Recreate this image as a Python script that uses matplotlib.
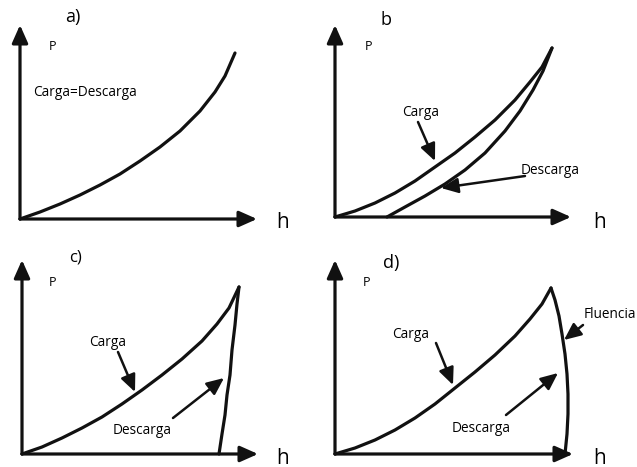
import matplotlib
matplotlib.use('Agg')
import matplotlib.pyplot as plt

# curvas (h, P) en unidades arbitrarias (1 unidad ~ 1 px)
a_h = [0, 20, 40, 60, 80, 100, 120, 140, 160, 180, 195, 205, 215]
a_P = [0, 7, 15, 24, 34, 45, 58, 72, 88, 108, 127, 143, 166]

b_carga_h = [0, 20, 40, 60, 80, 100, 120, 140, 160, 180, 195, 207, 217]
b_carga_P = [0, 6, 14, 24, 36, 50, 64, 80, 97, 117, 135, 150, 169]
b_desc_h = [52, 70, 90, 110, 130, 150, 170, 185, 198, 208, 217]
b_desc_P = [0, 10, 21, 33, 47, 64, 86, 106, 127, 146, 169]

c_carga_h = [0, 20, 40, 60, 80, 100, 120, 140, 160, 180, 195, 207, 217]
c_carga_P = [0, 7, 16, 26, 37, 50, 64, 79, 95, 113, 130, 146, 167]
c_desc_h = [217, 215, 213, 210, 208, 205, 203, 200, 197]
c_desc_P = [167, 150, 129, 104, 79, 59, 39, 20, 0]

d_carga_h = [0, 20, 40, 60, 80, 100, 120, 140, 160, 180, 195, 207, 216]
d_carga_P = [0, 6, 14, 24, 36, 50, 66, 82, 99, 118, 135, 150, 166]
d_desc_h = [216, 220, 224, 227, 230, 232, 233, 233, 232, 230]
d_desc_P = [166, 154, 138, 120, 100, 80, 60, 40, 20, 0]

# largo de los ejes (h, P) de cada panel
ejes_h = [237, 236, 236, 238]
ejes_P = [194, 192, 194, 194]

W, H = 637, 467
fig = plt.figure(figsize=(W / 100, H / 100), dpi=100)
fig.patch.set_facecolor('white')
plt.rcParams['font.family'] = ['Open Sans', 'DejaVu Sans']

col = '#111111'
origenes = [(20, 219), (335, 217), (22, 454), (335, 454)]


def panel(i):
    ox, oy = origenes[i]
    ax = fig.add_axes([ox / W, (H - oy) / H, 300 / W, 220 / H])
    ax.set_xlim(0, 300)
    ax.set_ylim(0, 220)
    ax.axis('off')
    for xy in [(0, ejes_P[i]), (ejes_h[i], 0)]:
        ax.annotate('', xy=xy, xytext=(0, 0), annotation_clip=False,
                    arrowprops=dict(arrowstyle='-|>,head_length=0.9,head_width=0.4',
                                    mutation_scale=12, lw=2.3, color=col,
                                    shrinkA=0, shrinkB=0))
    return ax


def flecha(ax, x0, y0, x1, y1):
    ax.annotate('', xy=(x1, y1), xytext=(x0, y0), annotation_clip=False,
                arrowprops=dict(arrowstyle='-|>,head_length=0.9,head_width=0.4',
                                mutation_scale=11.5, lw=1.8, color=col,
                                shrinkA=0, shrinkB=0))


kw = dict(color=col, lw=2.3, solid_capstyle='round', solid_joinstyle='round',
          clip_on=False)
fs = 9.8
fp = 9
fl = 13
fh = 15

# a)
ax = panel(0)
ax.plot(a_h, a_P, **kw)
ax.text(53, 202, 'a)', fontsize=fl, ha='center', va='center')
ax.text(32, 172, 'P', fontsize=fp, ha='center', va='center')
ax.text(13, 126, 'Carga=Descarga', fontsize=fs, ha='left', va='center')
ax.text(263, -4, 'h', fontsize=fh, ha='center', va='center')

# b
ax = panel(1)
ax.plot(b_carga_h, b_carga_P, **kw)
ax.plot(b_desc_h, b_desc_P, **kw)
ax.text(51, 197, 'b', fontsize=fl, ha='center', va='center')
ax.text(33, 170, 'P', fontsize=fp, ha='center', va='center')
ax.text(86, 104, 'Carga', fontsize=fs, ha='center', va='center')
flecha(ax, 83, 95, 100, 56)
ax.text(215, 47, 'Descarga', fontsize=fs, ha='center', va='center')
flecha(ax, 190, 41, 106, 29)
ax.text(265, -6, 'h', fontsize=fh, ha='center', va='center')

# c)
ax = panel(2)
ax.plot(c_carga_h, c_carga_P, **kw)
ax.plot(c_desc_h, c_desc_P, **kw)
ax.text(54, 196, 'c)', fontsize=fl - 1, ha='center', va='center')
ax.text(30, 172, 'P', fontsize=fp, ha='center', va='center')
ax.text(86, 112, 'Carga', fontsize=fs, ha='center', va='center')
flecha(ax, 96, 102, 113, 62)
ax.text(120, 23, 'Descarga', fontsize=fs, ha='center', va='center')
flecha(ax, 151, 36, 202, 76)
ax.text(261, -4, 'h', fontsize=fh, ha='center', va='center')

# d)
ax = panel(3)
ax.plot(d_carga_h, d_carga_P, **kw)
ax.plot(d_desc_h, d_desc_P, **kw)
ax.text(56, 191, 'd)', fontsize=fl, ha='center', va='center')
ax.text(31, 171, 'P', fontsize=fp, ha='center', va='center')
ax.text(275, 139, 'Fluencia', fontsize=fs, ha='center', va='center')
flecha(ax, 248, 129, 229, 114)
ax.text(76, 119, 'Carga', fontsize=fs, ha='center', va='center')
flecha(ax, 101, 111, 118, 69)
ax.text(146, 25, 'Descarga', fontsize=fs, ha='center', va='center')
flecha(ax, 171, 39, 223, 81)
ax.text(265, -4, 'h', fontsize=fh, ha='center', va='center')

fig.savefig('out.png', dpi=100, facecolor='white')
